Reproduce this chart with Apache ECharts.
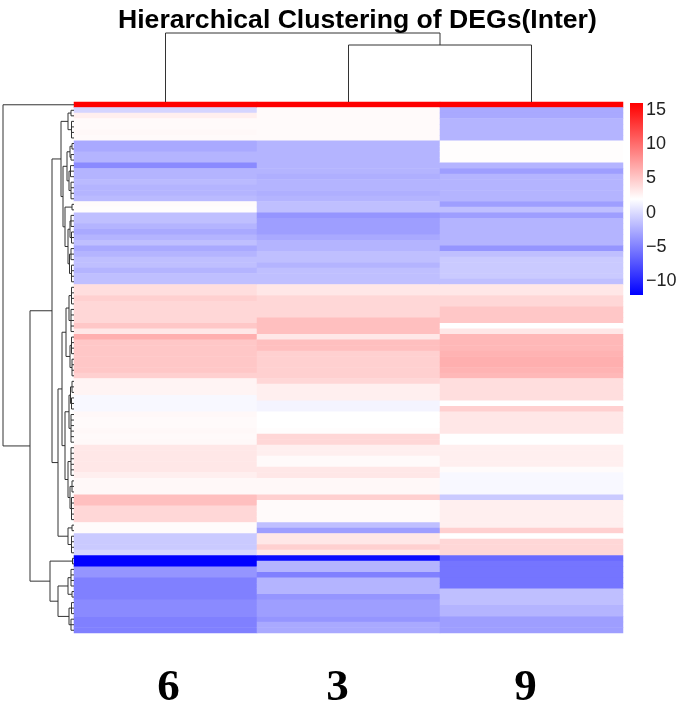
<!DOCTYPE html>
<html><head><meta charset="utf-8">
<script src="https://cdn.jsdelivr.net/npm/echarts@6/dist/echarts.min.js"></script>
<style>html,body{margin:0;padding:0;background:#fff}#c{width:685px;height:706px}</style>
</head><body><div id="c"></div>
<script>
// ---- data ----
const samples = ['6', '3', '9'];
const col6 = [16,-0.3,2.9,2.3,2.3,2.4,2.3,-2.7,-2.7,-2.1,-2.1,-4.4,-2.1,-2.1,-1.8,-2.1,-2.1,-1.8,2.2,2.1,
  -1.5,-1.5,-2.1,-2.7,-2.1,-1.5,-2.7,-2.1,-1.5,-1.5,-2.1,-1.5,-1.5,3.8,3.8,4.6,4.2,4.2,4.2,4.2,
  5.1,3.3,6.4,5.1,5.1,5.1,5.1,5.1,5.1,4.6,2.6,2.6,2.6,1.6,1.6,1.6,2.4,2.3,2.3,2.4,
  2.3,2.4,3.3,3.3,3.3,3.3,3.3,2.9,2.4,2.4,2.4,5.5,5.5,4.2,4.2,4.2,2.2,2.2,-0.9,-0.9,
  -0.9,-0.3,-12,-12,-3.8,-3.8,-5,-5,-5,-5,-4.4,-4.4,-4.4,-5,-5,-5];
const col3 = [16,2.3,2.3,2.3,2.3,2.3,2.3,-2.1,-2.1,-2.1,-2.1,-2.1,-2.1,-2.4,-2.1,-2.1,-2.4,-2.1,-1.5,-1.5,
  -3.8,-3.3,-3.3,-3.3,-2.7,-2.1,-2.1,-1.5,-1.5,-2.1,-1.5,-1.5,-1.5,3.3,3.3,4.2,4.2,4.2,4.2,5.5,
  5.5,5.5,3.3,5.5,5.5,4.6,4.6,4.6,4.6,4.6,4.2,2.9,2.9,2.9,1.4,1.4,2,2,2,2.1,
  4.2,4.2,2.9,2.9,2.3,2.3,3.3,3.3,2.4,2.4,2.4,4.6,2.3,2.3,2.3,2.3,-1.5,-3.3,3.3,3.3,
  4.6,3.3,-11.4,-2.1,-2.1,-5,-2.1,-2.1,-2.1,-3.8,-3.3,-3.3,-3.3,-3.8,-2.7,-2.7];
const col9 = [16,-2.7,-2.7,-2.1,-2.1,-2.1,-2.1,2.1,2.1,2.1,2.1,-2.1,-3.3,-2.1,-2.1,-2.1,-2.1,-2.1,-3.3,-1.5,
  -3.3,-2.1,-2.1,-2.1,-2.1,-2.1,-3.8,-1.5,-0.9,-0.9,-0.9,-0.9,-1.5,3.3,3.3,4.2,4.2,5.1,5.1,5.1,
  2,3.3,5.9,5.9,5.9,6.2,6.4,6.4,6.2,5.9,3.8,3.8,3.8,3.8,2,4.6,3.3,3.3,3.3,3.3,
  2,2,2.9,2.9,2.9,2.9,2.2,1.6,1.6,1.6,1.6,-0.9,2.9,2.9,2.9,2.9,2.9,4.6,2,4.2,
  4.2,4.2,-6.2,-5.6,-5.6,-5.6,-5.6,-5.6,-1.5,-1.5,-1.5,-2.1,-2.1,-3.3,-3.3,-3.3];
const legendTicks = [-10, -5, 0, 5, 10, 15];
const colorMin = -12, colorMax = 16;
const rampColors = ['#0000FF', '#FFFFFF', '#FF0000'];
// column dendrogram: leaves are column indices, h = merge height
const colTree = {h: 69, c: [0, {h: 57, c: [1, 2]}]};
// row dendrogram: [startRow, endRow, h] = rows joined at small height h
const rowTree = {h: 71, c: [[0, 0, 0], {h: 44, c: [
  {h: 22, c: [
    {h: 13, c: [
      {h: 6, c: [[1, 2, 3], [3, 6, 2.5]]},
      {h: 11, c: [
        {h: 7, c: [{h: 4, c: [[7, 8, 2], [9, 10, 3]]}, {h: 5, c: [[11, 13, 3.5], [14, 17, 3]]}]},
        {h: 9, c: [[18, 19, 2], {h: 6, c: [{h: 4, c: [[20, 22, 3], [23, 25, 2.5]]}, {h: 4.5, c: [[26, 28, 3], [29, 32, 2.5]]}]}]}
      ]}
    ]},
    {h: 16, c: [
      {h: 12, c: [
        {h: 8, c: [{h: 5, c: [[33, 36, 2.5], [37, 41, 3]]}, {h: 4, c: [[42, 45, 2.5], [46, 49, 2]]}]},
        {h: 9, c: [{h: 5, c: [{h: 3.5, c: [[50, 52, 2], [53, 55, 2.5]]}, [56, 61, 3]]},
                   {h: 6, c: [[62, 67, 3], {h: 4, c: [[68, 70, 2], [71, 75, 2.5]]}]}]}
      ]},
      {h: 6, c: [[76, 77, 2], [78, 81, 2.5]]}
    ]}
  ]},
  {h: 24, c: [[82, 83, 1.5], {h: 16, c: [{h: 6, c: [[84, 87, 3], [88, 89, 2]]}, {h: 5, c: [[90, 92, 2.5], [93, 95, 3]]}]}]}
]}]};

// ---- build ----
const cols = [col6, col3, col9];
const nRows = col6.length;
const rowNames = col6.map((_, i) => 'g' + (i + 1));
const heatData = [];
cols.forEach((arr, ci) => arr.forEach((v, ri) => heatData.push([ci, ri, v])));

// dendrogram segments as [height, pos, height, pos]
function layout(node, segs) {
  if (typeof node === 'number') return {pos: node + 0.5, h: 0};
  if (Array.isArray(node)) {
    const [s, e, h] = node;
    if (s === e) return {pos: s + 0.5, h: 0};
    segs.push([h, s + 0.5, h, e + 0.5]);
    for (let i = s; i <= e; i++) segs.push([0, i + 0.5, h, i + 0.5]);
    return {pos: (s + e + 1) / 2, h: h};
  }
  const a = layout(node.c[0], segs), b = layout(node.c[1], segs);
  segs.push([a.h, a.pos, node.h, a.pos]);
  segs.push([b.h, b.pos, node.h, b.pos]);
  segs.push([node.h, a.pos, node.h, b.pos]);
  return {pos: (a.pos + b.pos) / 2, h: node.h};
}
const rowSegs = []; layout(rowTree, rowSegs);
const colSegsRaw = []; layout(colTree, colSegsRaw);
const colSegs = colSegsRaw.map(s => [s[1], s[0], s[3], s[2]]);

function lineItem(params, api) {
  const p1 = api.coord([api.value(0), api.value(1)]);
  const p2 = api.coord([api.value(2), api.value(3)]);
  return {type: 'line', shape: {x1: p1[0], y1: p1[1], x2: p2[0], y2: p2[1]},
    style: {stroke: '#333', lineWidth: 1}};
}
const stops = rampColors.map((c, i) => ({offset: i / (rampColors.length - 1), color: c}));

const hidden = {show: false};
const labelFont = {fontFamily: 'Liberation Serif', fontWeight: 'bold', fontSize: 45, color: '#000'};
const chart = echarts.init(document.getElementById('c'), null, {renderer: 'canvas'});
chart.setOption({
  animation: false,
  backgroundColor: '#fff',
  title: {text: 'Hierarchical Clustering of DEGs(Inter)', left: 113, top: 2,
    textStyle: {fontFamily: 'Liberation Sans', fontWeight: 'bold', fontSize: 26.6, color: '#000'}},
  grid: [
    {left: 74, top: 102, width: 549, height: 531, outerBoundsMode: 'none', containLabel: false},
    {left: 0, top: 102, width: 74, height: 531, outerBoundsMode: 'none', containLabel: false},
    {left: 74, top: 30, width: 549, height: 72, outerBoundsMode: 'none', containLabel: false},
    {left: 630, top: 103, width: 13, height: 192, outerBoundsMode: 'none', containLabel: false}
  ],
  xAxis: [
    {gridIndex: 0, type: 'category', data: samples, axisLine: hidden, axisTick: hidden,
      axisLabel: {margin: 33, formatter: v => '{s' + v + '|' + v + '}',
        rich: {
          s6: Object.assign({padding: [0, 0, 0, 6]}, labelFont),
          s3: Object.assign({padding: [0, 22, 0, 0]}, labelFont),
          s9: Object.assign({padding: [0, 12, 0, 0]}, labelFont)
        }}},
    {gridIndex: 1, type: 'value', min: 0, max: 74, inverse: true, show: false},
    {gridIndex: 2, type: 'value', min: 0, max: samples.length, show: false},
    {gridIndex: 3, type: 'value', min: 0, max: 1, show: false}
  ],
  yAxis: [
    {gridIndex: 0, type: 'category', data: rowNames, inverse: true, show: false},
    {gridIndex: 1, type: 'value', min: 0, max: nRows, inverse: true, show: false},
    {gridIndex: 2, type: 'value', min: 0, max: 72, show: false},
    {gridIndex: 3, type: 'value', min: colorMin, max: colorMax, position: 'right',
      axisLine: hidden, axisTick: hidden, splitLine: hidden,
      axisLabel: {customValues: legendTicks, margin: 3, fontFamily: 'Liberation Sans', fontSize: 18, color: '#222',
        formatter: v => (v < 0 ? '\u2212' + (-v) : String(v))}}
  ],
  visualMap: {show: false, seriesIndex: 0, min: colorMin, max: colorMax, inRange: {color: rampColors}},
  series: [
    {type: 'heatmap', xAxisIndex: 0, yAxisIndex: 0, data: heatData, itemStyle: {borderWidth: 0}},
    {type: 'custom', xAxisIndex: 1, yAxisIndex: 1, data: rowSegs, renderItem: lineItem, clip: false, silent: true},
    {type: 'custom', xAxisIndex: 2, yAxisIndex: 2, data: colSegs, renderItem: lineItem, clip: false, silent: true},
    {type: 'custom', xAxisIndex: 3, yAxisIndex: 3, data: [[0, colorMin, 1, colorMax]], clip: false, silent: true,
      renderItem: (params, api) => {
        const p1 = api.coord([api.value(0), api.value(3)]);
        const p2 = api.coord([api.value(2), api.value(1)]);
        return {type: 'rect', shape: {x: p1[0], y: p1[1], width: p2[0] - p1[0], height: p2[1] - p1[1]},
          style: {fill: new echarts.graphic.LinearGradient(0, 1, 0, 0, stops)}};
      }}
  ]
});
</script>
</body></html>
